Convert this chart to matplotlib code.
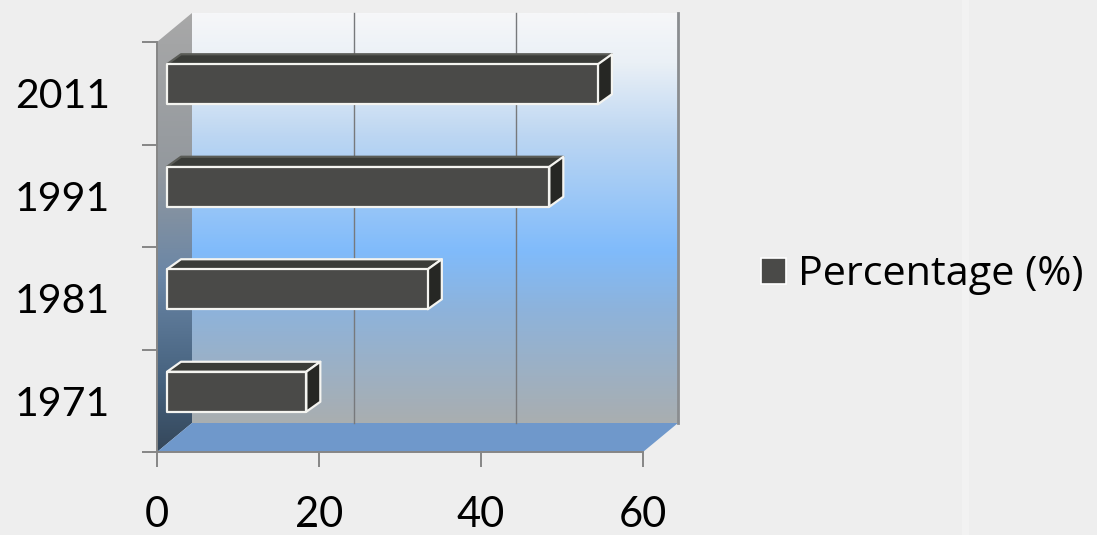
import numpy as np
import matplotlib
matplotlib.use("Agg")
import matplotlib.pyplot as plt
from matplotlib.colors import LinearSegmentedColormap
from matplotlib.patches import Patch, Polygon

# Chart data
years = ["1971", "1981", "1991", "2011"]
percentages = [17.2, 32.2, 47.2, 53.2]
x_ticks = [0, 20, 40, 60]
series_name = "Percentage (%)"

plt.rcParams["font.family"] = ["Lato", "DejaVu Sans"]

BG = "#eeeeee"
AXIS = "#868686"
FRONT = "#4a4a48"
TOP = "#3a3c38"
SIDE = "#262724"
OUTLINE = "#f4f4f0"

fig = plt.figure(figsize=(10.97, 5.35), dpi=100, facecolor=BG)
ax = fig.add_axes([157 / 1097, 83 / 535, 486 / 1097, 410 / 535])
ax.set_facecolor("none")

# Faint lighter stripe on the slide background
fig.patches.append(plt.Rectangle((962 / 1097, 0), 7 / 1097, 1, transform=fig.transFigure,
                                 color="#f2f2f2", lw=0, zorder=-5))

ax.set_xlim(0, 60)
ax.set_ylim(-0.5, 3.5)

# Depth of the box in data units
depth_x = 35 / 8.1
depth_y = 29 / 102.5
top_y = 3.5 + depth_y
bottom_y = -0.5 + depth_y

# Back wall with a vertical gradient
wall_cmap = LinearSegmentedColormap.from_list(
    "wall", [(0, "#f6f7f9"), (0.12, "#eaf0f6"), (0.3, "#bcd6f2"), (0.58, "#80bbfb"),
             (0.72, "#8db3dc"), (1, "#a9aeb0")])
grad = np.linspace(0, 1, 256).reshape(-1, 1)
ax.imshow(grad, extent=[depth_x, 60 + depth_x, bottom_y, top_y], cmap=wall_cmap,
          aspect="auto", clip_on=False, zorder=1)

# Left wall, clipped to its parallelogram
left_cmap = LinearSegmentedColormap.from_list(
    "left", [(0, "#a8a8a8"), (0.35, "#94999e"), (0.6, "#6a86a6"), (0.85, "#44607c"), (1, "#35475a")])
left_poly = Polygon([(0, -0.5), (0, 3.5), (depth_x, top_y), (depth_x, bottom_y)],
                    closed=True, fc="none", ec="none", transform=ax.transData, clip_on=False)
ax.add_patch(left_poly)
left_im = ax.imshow(grad, extent=[0, depth_x, -0.5, top_y], cmap=left_cmap, aspect="auto",
                    zorder=2)
left_im.set_clip_box(fig.bbox)
left_im.set_clip_path(left_poly)

# Floor
ax.add_patch(Polygon([(0, -0.5), (depth_x, bottom_y), (60 + depth_x, bottom_y), (60, -0.5)],
                     closed=True, fc="#6f98cb", ec="none", clip_on=False, zorder=2))

# Gridlines on the back wall and its right edge
for t in x_ticks[1:3]:
    ax.plot([t + depth_x, t + depth_x], [bottom_y, top_y], color="#77797c", lw=1.0,
            clip_on=False, zorder=3)
ax.plot([60 + depth_x, 60 + depth_x], [bottom_y, top_y], color="#8a8d90", lw=2,
        clip_on=False, zorder=3)

ax.set_xlim(0, 60)
ax.set_ylim(-0.5, 3.5)

# 3D bars built from three faces
off_x = 10 / 8.1
off_y = 9 / 102.5
bar_h = 40 / 102.5
bar_dx = 14 / 8.1
bar_dy = 10 / 102.5
for i, v in enumerate(percentages):
    x0, x1 = off_x, off_x + v
    y0, y1 = i + off_y - bar_h / 2, i + off_y + bar_h / 2
    # the top face keeps a white edge only on the lower two bars
    top_edge = OUTLINE if i < 2 else "#5a5c57"
    faces = [
        ([(x0, y1), (x1, y1), (x1 + bar_dx, y1 + bar_dy), (x0 + bar_dx, y1 + bar_dy)], TOP, top_edge),
        ([(x1, y0), (x1, y1), (x1 + bar_dx, y1 + bar_dy), (x1 + bar_dx, y0 + bar_dy)], SIDE, OUTLINE),
        ([(x0, y0), (x1, y0), (x1, y1), (x0, y1)], FRONT, OUTLINE),
    ]
    for pts, col, edge in faces:
        ax.add_patch(Polygon(pts, closed=True, fc=col, ec=edge, lw=1.6,
                             joinstyle="round", clip_on=False, zorder=5))

# Axes and tick labels
for name in ["top", "right"]:
    ax.spines[name].set_visible(False)
for name in ["left", "bottom"]:
    ax.spines[name].set_color(AXIS)
    ax.spines[name].set_linewidth(1.4)
    ax.spines[name].set_zorder(6)

ax.set_xticks(x_ticks)
ax.set_yticks(np.arange(-0.5, 4, 1))
ax.set_yticks(np.arange(len(years)), labels=years, minor=True)
ax.set_yticklabels([])
ax.tick_params(axis="both", which="major", color=AXIS, width=1.4, length=10.5)
ax.tick_params(axis="y", which="minor", length=0, pad=34, labelsize=29.5)
ax.tick_params(axis="x", labelsize=30, pad=21)

# Legend
handle = Patch(fc=FRONT, ec="white", lw=1.2, label=series_name)
ax.legend(handles=[handle], loc="center left", bbox_to_anchor=(761 / 1097, 1 - 275 / 535),
          bbox_transform=fig.transFigure, frameon=False,
          prop={"family": "Open Sans", "size": 29.8}, handlelength=0.6,
          handleheight=0.6, handletextpad=0.3, borderpad=0, borderaxespad=0)

fig.savefig("out.png", dpi=100, facecolor=BG)
